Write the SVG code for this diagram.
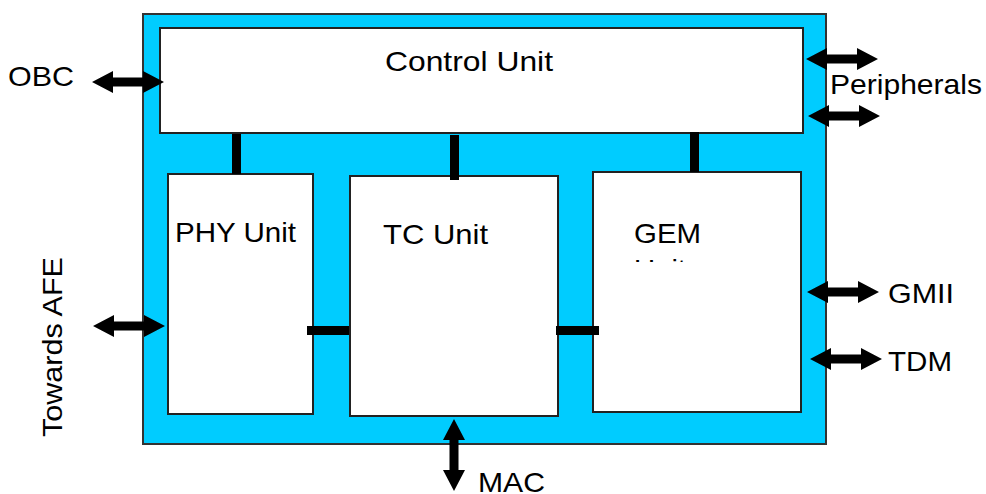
<svg xmlns="http://www.w3.org/2000/svg" width="986" height="494" viewBox="0 0 986 494">
<style>
.box{fill:#ffffff;stroke:#222222;stroke-width:2}
.t{font-family:"Liberation Sans",Arial,sans-serif;font-size:28px;fill:#000000}
.bar{fill:#000000}
.arr{fill:#000000}
</style>
<defs>
<path id="dbl" d="M0,0 L21,-11 L21,-4.5 L51,-4.5 L51,-11 L72,0 L51,11 L51,4.5 L21,4.5 L21,11 Z"/>
<clipPath id="gemclip"><rect x="600" y="250" width="190" height="12"/></clipPath>
</defs>
<rect width="986" height="494" fill="#ffffff"/>
<g id="chip">
<rect x="143" y="14" width="683" height="430" fill="#00CCFF" stroke="#333333" stroke-width="2"/>
</g>
<g id="control-unit">
<rect class="box" x="160" y="28" width="643" height="105"/>
<text class="t" x="385" y="71" textLength="168" lengthAdjust="spacingAndGlyphs">Control Unit</text>
</g>
<g id="phy-unit">
<rect class="box" x="168" y="174" width="145" height="240"/>
<text class="t" x="175" y="242" textLength="121" lengthAdjust="spacingAndGlyphs">PHY Unit</text>
</g>
<g id="tc-unit">
<rect class="box" x="350" y="176" width="208" height="240"/>
<text class="t" x="383" y="244" textLength="105" lengthAdjust="spacingAndGlyphs">TC Unit</text>
</g>
<g id="gem-unit">
<rect class="box" x="593" y="172" width="208" height="240"/>
<text class="t" x="634" y="243" textLength="67" lengthAdjust="spacingAndGlyphs">GEM</text>
<text class="t" x="634" y="279" textLength="52" lengthAdjust="spacingAndGlyphs" clip-path="url(#gemclip)">Unit</text>
</g>
<g id="connectors">
<rect class="bar" x="232" y="134" width="9" height="40"/>
<rect class="bar" x="450" y="135" width="9" height="45"/>
<rect class="bar" x="690" y="132" width="9" height="40"/>
<rect class="bar" x="307" y="326" width="42" height="9"/>
<rect class="bar" x="556" y="326" width="43" height="9"/>
<use class="arr" href="#dbl" transform="translate(92,82)"/>
<use class="arr" href="#dbl" transform="translate(806,59)"/>
<use class="arr" href="#dbl" transform="translate(808,116)"/>
<use class="arr" href="#dbl" transform="translate(93,326)"/>
<use class="arr" href="#dbl" transform="translate(807,292)"/>
<use class="arr" href="#dbl" transform="translate(810,359)"/>
<use class="arr" href="#dbl" transform="translate(454,419) rotate(90)"/>
</g>
<g id="labels">
<text class="t" x="8" y="86" textLength="66" lengthAdjust="spacingAndGlyphs">OBC</text>
<text class="t" x="830" y="94" textLength="152" lengthAdjust="spacingAndGlyphs">Peripherals</text>
<text class="t" x="888" y="303" textLength="66" lengthAdjust="spacingAndGlyphs">GMII</text>
<text class="t" x="888" y="371" textLength="64" lengthAdjust="spacingAndGlyphs">TDM</text>
<text class="t" x="478" y="492" textLength="67" lengthAdjust="spacingAndGlyphs">MAC</text>
<text class="t" transform="translate(62,347) rotate(-90)" text-anchor="middle" textLength="180" lengthAdjust="spacingAndGlyphs">Towards AFE</text>
</g>
</svg>
